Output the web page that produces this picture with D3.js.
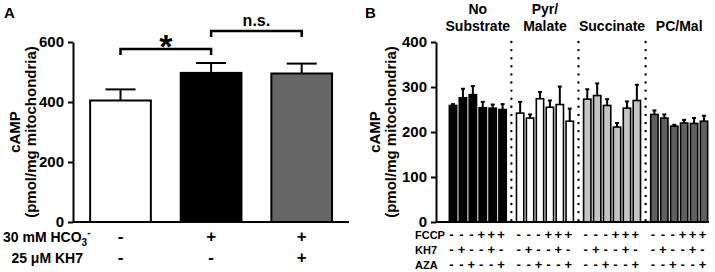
<!DOCTYPE html>
<html>
<head>
<meta charset="utf-8">
<script src="https://cdn.jsdelivr.net/npm/d3@7"></script>
<style>
  body { margin: 0; background: #fff; }
  svg text { font-family: Arial, "Liberation Sans", sans-serif; font-weight: bold; fill: #000; }
</style>
</head>
<body>
<div id="chart"></div>
<script>
// ---- Panel A data ----
const conditionsA = ["control", "HCO3", "HCO3+KH7"];
const cAMPA = [405, 497, 495];
const semA = [37, 33, 33];
const hco3Row = ["-", "+", "+"];
const kh7RowA = ["-", "-", "+"];
const fillsA = ["#ffffff", "#000000", "#666666"];

// ---- Panel B data ----
const substrates = ["No Substrate", "Pyr/Malate", "Succinate", "PC/Mal"];
const substrateLines = [["No", "Substrate"], ["Pyr/", "Malate"], ["", "Succinate"], ["", "PC/Mal"]];
const noSubstrate = [259, 276, 283, 254, 253, 250];
const noSubstrateSem = [3, 20, 19, 13, 8, 12];
const pyrMalate = [242, 231, 274, 255, 261, 224];
const pyrMalateSem = [25, 8, 15, 15, 40, 28];
const succinate = [273, 281, 259, 211, 253, 270];
const succinateSem = [22, 27, 14, 9, 15, 35];
const pcMal = [239, 231, 213, 220, 219, 224];
const pcMalSem = [9, 8, 3, 7, 12, 12];
const fccpRow = ["-", "-", "-", "+", "+", "+"];
const kh7RowB = ["-", "+", "-", "-", "+", "-"];
const azaRow = ["-", "-", "+", "-", "-", "+"];
const fillsB = ["#000000", "#ffffff", "#c4c4c4", "#606060"];

const valuesB = [noSubstrate, pyrMalate, succinate, pcMal];
const semB = [noSubstrateSem, pyrMalateSem, succinateSem, pcMalSem];

const width = 715, height = 272;
const svg = d3.select("#chart").append("svg")
    .attr("width", width)
    .attr("height", height);

const yTop = 42, yBase = 222;

function styleAxis(g) {
    g.select(".domain").attr("stroke", "#000").attr("stroke-width", 2);
    g.selectAll(".tick line").attr("stroke", "#000").attr("stroke-width", 2);
    g.selectAll(".tick text")
        .attr("font-size", 15)
        .attr("font-family", "Arial, 'Liberation Sans', sans-serif")
        .attr("font-weight", "bold")
        .attr("dx", "-1");
}

function yLabel(xc, xp) {
    const yc = (yTop + yBase) / 2;
    svg.append("text")
        .attr("transform", `translate(${xc},${yc}) rotate(-90)`)
        .attr("text-anchor", "middle")
        .attr("font-size", 15)
        .text("cAMP");
    svg.append("text")
        .attr("transform", `translate(${xp},${yc}) rotate(-90)`)
        .attr("text-anchor", "middle")
        .attr("font-size", 15)
        .text("(pmol/mg mitochondria)");
}

// ================= Panel A =================
const axA = 73;
const xA = d3.scaleBand()
    .domain(conditionsA)
    .range([75.2, 347])
    .paddingInner(0.33)
    .paddingOuter(0.165);
const yA = d3.scaleLinear().domain([0, 600]).range([yBase, yTop]);

svg.append("text").attr("x", 4).attr("y", 18).attr("font-size", 15).text("A");

// error bars A
const errA = svg.append("g").attr("stroke", "#000").attr("stroke-width", 2);
conditionsA.forEach((c, i) => {
    const cx = xA(c) + xA.bandwidth() / 2;
    errA.append("line")
        .attr("x1", cx).attr("x2", cx)
        .attr("y1", yA(cAMPA[i])).attr("y2", yA(cAMPA[i] + semA[i]));
    errA.append("line")
        .attr("x1", cx - 15).attr("x2", cx + 15)
        .attr("y1", yA(cAMPA[i] + semA[i])).attr("y2", yA(cAMPA[i] + semA[i]));
});

svg.append("g").selectAll("rect")
    .data(conditionsA)
    .join("rect")
    .attr("x", d => xA(d))
    .attr("y", (d, i) => yA(cAMPA[i]))
    .attr("width", xA.bandwidth())
    .attr("height", (d, i) => yA(0) - yA(cAMPA[i]))
    .attr("fill", (d, i) => fillsA[i])
    .attr("stroke", "#000")
    .attr("stroke-width", 2);

svg.append("g")
    .attr("transform", `translate(${axA},0)`)
    .call(d3.axisLeft(yA).tickValues([0, 200, 400, 600]).tickSize(5).tickSizeOuter(0))
    .call(styleAxis);

svg.append("line")
    .attr("x1", axA).attr("x2", 349)
    .attr("y1", yBase).attr("y2", yBase)
    .attr("stroke", "#000").attr("stroke-width", 2);

yLabel(20, 36);

// significance brackets
const cA = c => xA(c) + xA.bandwidth() / 2;
function bracket(c1, c2, y, label, size, ty) {
    svg.append("path")
        .attr("d", `M${cA(c1)},${y + 6}V${y}H${cA(c2)}V${y + 6}`)
        .attr("fill", "none").attr("stroke", "#000").attr("stroke-width", 2.5);
    svg.append("text")
        .attr("x", (cA(c1) + cA(c2)) / 2)
        .attr("y", ty)
        .attr("text-anchor", "middle")
        .attr("font-size", size)
        .text(label);
}
bracket("control", "HCO3", 49, "*", 34, 58);
bracket("HCO3", "HCO3+KH7", 31, "n.s.", 16, 26);

// condition rows A
svg.append("text").attr("x", 3).attr("y", 242).attr("font-size", 14)
    .html('30 mM HCO<tspan font-size="10" dy="4">3</tspan><tspan font-size="10" dy="-10">-</tspan>');
svg.append("text").attr("x", 83).attr("y", 263).attr("font-size", 14)
    .attr("text-anchor", "end").text("25 \u03bcM KH7");

[[hco3Row, 242], [kh7RowA, 263]].forEach(([row, y]) => {
    svg.append("g").selectAll("text")
        .data(row)
        .join("text")
        .attr("x", (d, i) => cA(conditionsA[i]))
        .attr("y", y)
        .attr("text-anchor", "middle")
        .attr("font-size", 17)
        .text(d => d);
});

// ================= Panel B =================
const axB = 436;
const xB = d3.scaleBand()
    .domain(substrates)
    .range([444.25, 712.75])
    .paddingInner(0.14)
    .paddingOuter(0.07);
const xInner = d3.scaleBand()
    .domain(d3.range(6))
    .range([0, xB.bandwidth()])
    .paddingInner(0.26)
    .paddingOuter(0.04);
const yB = d3.scaleLinear().domain([0, 400]).range([yBase, yTop]);

svg.append("text").attr("x", 365).attr("y", 18).attr("font-size", 15).text("B");

// dotted separators
substrates.slice(1).forEach(s => {
    const sx = xB(s) - xB.step() * xB.paddingInner() / 2;
    svg.append("line")
        .attr("x1", sx).attr("x2", sx)
        .attr("y1", yTop).attr("y2", yBase)
        .attr("stroke", "#000")
        .attr("stroke-width", 2.4)
        .attr("stroke-linecap", "round")
        .attr("stroke-dasharray", "0,8.1");
});

substrates.forEach((s, gi) => {
    const g = svg.append("g").attr("transform", `translate(${xB(s)},0)`);
    const vals = valuesB[gi], errs = semB[gi];
    vals.forEach((v, i) => {
        const cx = xInner(i) + xInner.bandwidth() / 2;
        g.append("line")
            .attr("x1", cx).attr("x2", cx)
            .attr("y1", yB(v)).attr("y2", yB(v + errs[i]))
            .attr("stroke", "#000").attr("stroke-width", 2);
        g.append("line")
            .attr("x1", cx - 2).attr("x2", cx + 2)
            .attr("y1", yB(v + errs[i])).attr("y2", yB(v + errs[i]))
            .attr("stroke", "#000").attr("stroke-width", 2);
    });
    g.selectAll("rect")
        .data(vals)
        .join("rect")
        .attr("x", (d, i) => xInner(i))
        .attr("y", d => yB(d))
        .attr("width", xInner.bandwidth())
        .attr("height", d => yB(0) - yB(d))
        .attr("fill", fillsB[gi])
        .attr("stroke", "#000")
        .attr("stroke-width", 1.6);

    // group labels
    substrateLines[gi].forEach((line, li) => {
        svg.append("text")
            .attr("x", xB(s) + xB.bandwidth() / 2)
            .attr("y", li === 0 ? 14 : 31)
            .attr("text-anchor", "middle")
            .attr("font-size", 14)
            .text(line);
    });

    // treatment rows
    [[fccpRow, 239], [kh7RowB, 254], [azaRow, 269]].forEach(([row, y]) => {
        g.append("g").selectAll("text")
            .data(row)
            .join("text")
            .attr("x", (d, i) => xInner(i) + xInner.bandwidth() / 2 - 1.5)
            .attr("y", y)
            .attr("text-anchor", "middle")
            .attr("font-size", 13)
            .text(d => d);
    });
});

svg.append("g")
    .attr("transform", `translate(${axB},0)`)
    .call(d3.axisLeft(yB).tickValues([0, 100, 200, 300, 400]).tickSize(5).tickSizeOuter(0))
    .call(styleAxis);

svg.append("line")
    .attr("x1", axB).attr("x2", 709)
    .attr("y1", yBase).attr("y2", yBase)
    .attr("stroke", "#000").attr("stroke-width", 2);

yLabel(380, 396);

[["FCCP", 239], ["KH7", 254], ["AZA", 269]].forEach(([t, y]) => {
    svg.append("text").attr("x", 415).attr("y", y).attr("font-size", 11).text(t);
});
</script>
</body>
</html>
